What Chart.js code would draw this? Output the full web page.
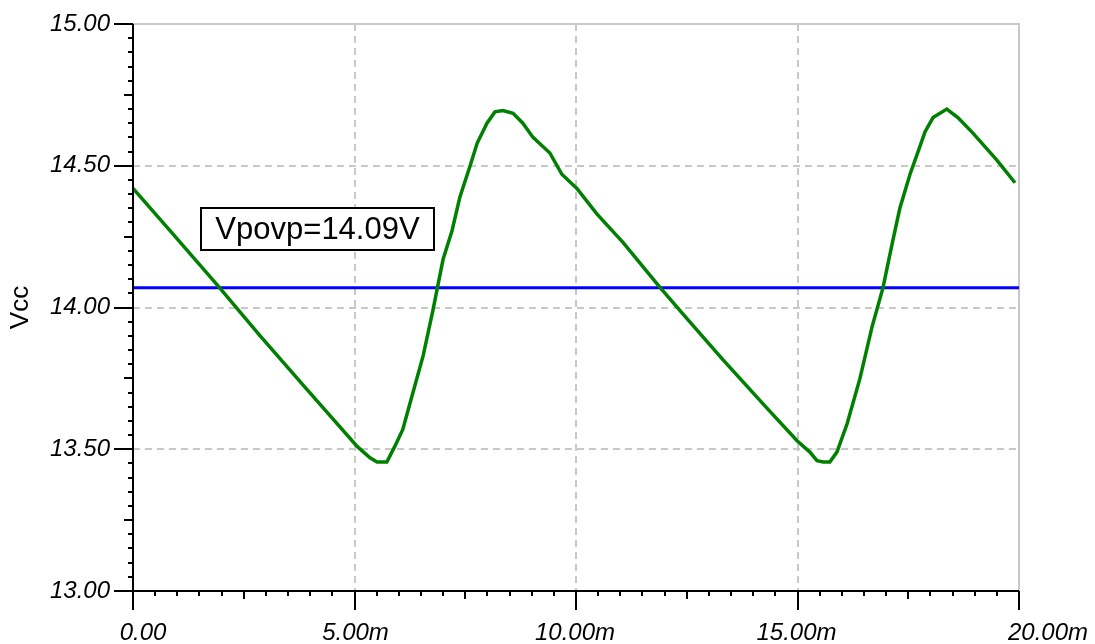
<!DOCTYPE html>
<html>
<head>
<meta charset="utf-8">
<script src="https://cdn.jsdelivr.net/npm/chart.js@4.4.0/dist/chart.umd.min.js"></script>
<style>
  html, body { margin: 0; padding: 0; background: #fff; }
  #wrap { width: 1095px; height: 644px; position: relative; }
</style>
</head>
<body>
<div id="wrap"><canvas id="vcc"></canvas></div>
<script>
// scope trace, time in ms, Vcc in volts
const timeMs = [0.00, 0.84, 1.90, 2.87, 3.93, 5.06, 5.35, 5.51, 5.73, 5.91, 6.09, 6.32, 6.55, 6.77,
  7.00, 7.20, 7.38, 7.61, 7.77, 7.99, 8.17, 8.35, 8.58, 8.80, 9.03, 9.41, 9.68, 10.02, 10.47,
  11.06, 11.90, 12.51, 13.32, 14.31, 14.99, 15.28, 15.44, 15.58, 15.73, 15.89, 16.12, 16.41,
  16.68, 16.93, 17.13, 17.31, 17.54, 17.70, 17.88, 18.06, 18.37, 18.62, 18.96, 19.50, 19.91];
const vcc = [14.42, 14.27, 14.08, 13.90, 13.71, 13.51, 13.47, 13.455, 13.455, 13.51, 13.57, 13.70, 13.83, 13.99,
  14.17, 14.27, 14.39, 14.50, 14.58, 14.65, 14.69, 14.695, 14.685, 14.65, 14.60, 14.545, 14.47, 14.42, 14.33,
  14.23, 14.07, 13.96, 13.815, 13.645, 13.53, 13.49, 13.46, 13.455, 13.455, 13.49, 13.59, 13.75,
  13.93, 14.07, 14.22, 14.35, 14.47, 14.54, 14.62, 14.67, 14.70, 14.67, 14.615, 14.52, 14.44];

// threshold line
const povpTime = [0, 20];
const povpLevel = [14.07, 14.07];
const povpText = 'Vpovp=14.09V';

const xTickValues = [0, 5, 10, 15, 20];
const xTickLabels = ['0.00', '5.00m', '10.00m', '15.00m', '20.00m'];
const yTickValues = [13, 13.5, 14, 14.5, 15];
const yTickLabels = ['13.00', '13.50', '14.00', '14.50', '15.00'];

const FONT = "'Liberation Sans', Arial, sans-serif";

const toPoints = (xs, ys) => xs.map((x, i) => ({ x: x, y: ys[i] }));

// grid, frame, tick marks, x labels and the annotation box
const scopeFrame = {
  id: 'scopeFrame',
  beforeDatasetsDraw(chart) {
    const { ctx, chartArea: a, scales: { x, y } } = chart;
    ctx.save();
    ctx.lineWidth = 2;
    ctx.strokeStyle = '#c8c8c8';
    ctx.setLineDash([7, 5]);
    xTickValues.slice(1, -1).forEach(v => {
      const px = Math.round(x.getPixelForValue(v));
      ctx.beginPath(); ctx.moveTo(px, a.top); ctx.lineTo(px, a.bottom); ctx.stroke();
    });
    yTickValues.slice(1, -1).forEach(v => {
      const py = Math.round(y.getPixelForValue(v));
      ctx.beginPath(); ctx.moveTo(a.left, py); ctx.lineTo(a.right, py); ctx.stroke();
    });
    ctx.setLineDash([]);
    const top = Math.round(y.getPixelForValue(15));
    const right = Math.round(x.getPixelForValue(20));
    const bottom = Math.round(y.getPixelForValue(13));
    ctx.beginPath();
    ctx.moveTo(a.left, top); ctx.lineTo(right, top); ctx.lineTo(right, bottom);
    ctx.stroke();
    ctx.restore();
  },
  afterDatasetsDraw(chart) {
    const { ctx, scales: { x, y } } = chart;
    const x0 = Math.round(x.getPixelForValue(0));
    const x1 = Math.round(x.getPixelForValue(20));
    const y0 = Math.round(y.getPixelForValue(13));
    const y1 = Math.round(y.getPixelForValue(15));
    ctx.save();
    ctx.strokeStyle = '#000';
    ctx.lineWidth = 2;
    // axes
    ctx.beginPath();
    ctx.moveTo(x0, y1); ctx.lineTo(x0, y0);
    ctx.moveTo(x0, y0); ctx.lineTo(x1, y0);
    ctx.stroke();
    // y ticks every 0.05 V
    ctx.beginPath();
    for (let i = 0; i <= 40; i++) {
      const py = Math.round(y.getPixelForValue(13 + i * 0.05));
      const len = i % 10 === 0 ? 19 : (i % 5 === 0 ? 9 : 5);
      ctx.moveTo(x0 - len, py); ctx.lineTo(x0, py);
    }
    // x ticks every 0.5 ms
    for (let i = 0; i <= 40; i++) {
      const px = Math.round(x.getPixelForValue(i * 0.5));
      const len = i % 10 === 0 ? 19 : (i % 5 === 0 ? 8 : 5);
      ctx.moveTo(px, y0); ctx.lineTo(px, y0 + len);
    }
    ctx.stroke();

    // x tick labels
    const shift = [10, 1, -1, -1, 29];
    ctx.fillStyle = '#000';
    ctx.font = 'italic 24px ' + FONT;
    ctx.textAlign = 'center';
    ctx.textBaseline = 'alphabetic';
    xTickValues.forEach((v, i) => {
      ctx.fillText(xTickLabels[i], x.getPixelForValue(v) + shift[i], 640);
    });

    // annotation box
    const bl = Math.round(x.getPixelForValue(1.53));
    const br = Math.round(x.getPixelForValue(6.79));
    const bt = Math.round(y.getPixelForValue(14.351));
    const bb = Math.round(y.getPixelForValue(14.203));
    ctx.fillStyle = '#fff';
    ctx.fillRect(bl, bt, br - bl, bb - bt);
    ctx.strokeRect(bl, bt, br - bl, bb - bt);
    ctx.fillStyle = '#000';
    ctx.font = '31px ' + FONT;
    ctx.textBaseline = 'middle';
    ctx.fillText(povpText, (bl + br) / 2, (bt + bb) / 2 + 1);
    ctx.restore();
  }
};

const ctx = document.getElementById('vcc');
new Chart(ctx, {
  type: 'line',
  data: {
    datasets: [
      {
        label: 'Vcc',
        data: toPoints(timeMs, vcc),
        borderColor: '#008000',
        borderWidth: 3.5,
        pointRadius: 0,
        tension: 0
      },
      {
        label: 'Vpovp',
        data: toPoints(povpTime, povpLevel),
        borderColor: '#0000ff',
        borderWidth: 3,
        pointRadius: 0,
        tension: 0
      }
    ]
  },
  options: {
    responsive: true,
    maintainAspectRatio: false,
    animation: false,
    layout: { padding: { left: 0, right: 76, top: 24, bottom: 0 } },
    plugins: {
      legend: { display: false },
      tooltip: { enabled: false }
    },
    scales: {
      x: {
        type: 'linear',
        min: 0,
        max: 20,
        grid: { display: false },
        border: { display: false },
        ticks: { display: false },
        afterFit: (s) => { s.height = 53; s.paddingLeft = 0; s.paddingRight = 0; }
      },
      y: {
        type: 'linear',
        min: 13,
        max: 15,
        grid: { display: false, drawTicks: false },
        border: { display: false },
        afterBuildTicks: (s) => { s.ticks = yTickValues.map(v => ({ value: v })); },
        ticks: {
          padding: 23,
          color: '#000',
          font: { family: FONT, size: 24, style: 'italic' },
          callback: (v) => yTickLabels[yTickValues.indexOf(v)]
        },
        title: {
          display: true,
          text: 'Vcc',
          color: '#000',
          font: { family: FONT, size: 26 },
          padding: { top: 5, bottom: 0 }
        },
        afterFit: (s) => { s.width = 133; s.paddingTop = 0; s.paddingBottom = 0; }
      }
    }
  },
  plugins: [scopeFrame]
});
</script>
</body>
</html>
